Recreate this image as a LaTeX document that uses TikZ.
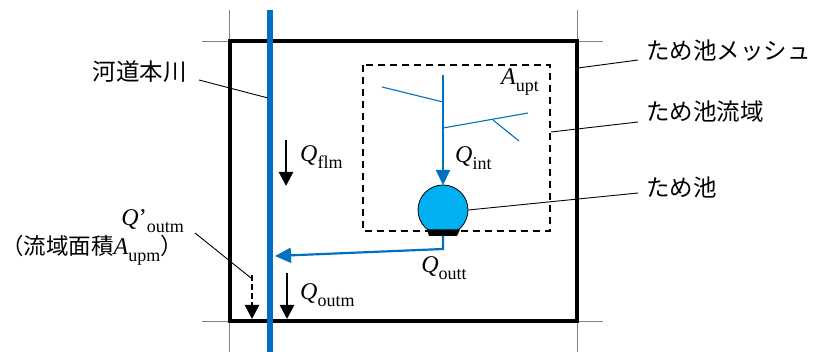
\documentclass[tikz,border=0pt]{standalone}
\usepackage{fontspec}
\setmainfont{Liberation Serif}
\newfontfamily\cjk{Noto Sans CJK JP}
\usetikzlibrary{arrows.meta}
\definecolor{riverblue}{RGB}{0,112,192}
\definecolor{pondblue}{RGB}{0,176,240}
\newcommand\sbx[1]{\raisebox{-0.3em}{\fontsize{18}{20}\selectfont #1}}
\newcommand\Qv[1]{\textit{Q}\sbx{#1}}
\begin{document}
\begin{tikzpicture}[x=1pt,y=-1pt,
  lbl/.style={font=\fontsize{24}{26}\selectfont, inner sep=0pt},
  jlbl/.style={font=\fontsize{23.5}{26}\selectfont\cjk, inner sep=0pt},
  leader/.style={black, line width=0.9pt},
  grid/.style={gray, line width=0.8pt},
  flowarrow/.style={line width=2.5pt, -{Triangle[length=14pt,width=14pt]}},
  bluearrow/.style={riverblue, line width=2.2pt, -{Triangle[length=15pt,width=14pt]}},
  branch/.style={riverblue, line width=1.1pt}]
\useasboundingbox (0,0) rectangle (813,352);
% grid lines
\draw[grid] (229,10) -- (229,352);
\draw[grid] (577,10) -- (577,352);
\draw[grid] (202,41) -- (603,41);
\draw[grid] (202,321) -- (603,321);
% mesh box
\draw[line width=3.6pt] (230,41) rectangle (577,321);
% river
\draw[riverblue, line width=6pt] (270,10) -- (270,352);
% catchment
\draw[line width=1.8pt, dash pattern=on 7pt off 5pt] (363,65) rectangle (550,231);
% tree
\draw[branch] (382,87) -- (443,102);
\draw[branch] (443,128) -- (528,113);
\draw[branch] (493,120) -- (519,141);
\coordinate (stemtop) at (443,75);
\coordinate (stemend) at (443,185);
\draw[bluearrow] (stemtop) -- (stemend);
% pond
\node[circle, draw=black, line width=0.8pt, fill=pondblue, minimum size=50pt, inner sep=0pt] (pond) at (443,210) {};
\fill (427,229.5) -- (460,229.5) -- (457,236) -- (429,236) -- cycle;
% outflow
\coordinate (outA) at (443,236);
\coordinate (outB) at (443,249);
\coordinate (outC) at (275,256);
\draw[riverblue, line width=2.2pt, -{Triangle[length=16pt,width=15pt]}] (outA) -- (outB) -- (outC);
% flow arrows
\coordinate (f1a) at (286,140); \coordinate (f1b) at (286,186);
\draw[flowarrow] (f1a) -- (f1b);
\coordinate (f2a) at (287,273); \coordinate (f2b) at (287,319);
\draw[flowarrow] (f2a) -- (f2b);
\coordinate (f3a) at (252,275); \coordinate (f3b) at (252,319);
\draw[flowarrow, dash pattern=on 6pt off 3pt] (f3a) -- (f3b);
% labels
\node[lbl, anchor=west] (qflm) at (300,157) {\Qv{flm}};
\node[lbl, anchor=west] (qint) at (455,158) {\Qv{int}};
\node[lbl, anchor=west] (aupt) at (501,82) {\textit{A}\sbx{upt}};
\node[lbl] (qoutt) at (444,268) {\Qv{outt}};
\node[lbl, anchor=west] (qoutm) at (300,295) {\Qv{outm}};
\node[lbl, anchor=east] (qpoutm) at (184,221) {\textit{Q}’\sbx{outm}};
\node[lbl, anchor=east] (aupm) at (183,250) {{\cjk\fontsize{22.5}{24}\selectfont （流域面積}\textit{A}\sbx{upm}{\cjk\fontsize{22.5}{24}\selectfont ）}};
\node[jlbl, anchor=east] (river) at (187,72) {河道本川};
\node[jlbl, anchor=west] (mesh) at (646,51) {ため池メッシュ};
\node[jlbl, anchor=west] (basin) at (646,112) {ため池流域};
\node[jlbl, anchor=west] (ike) at (646,187) {ため池};
% leaders
\coordinate (lr) at (268,98);
\draw[leader] (199,80) -- (lr);
\coordinate (lm) at (578,68);
\draw[leader] (638,60) -- (lm);
\coordinate (lb) at (551,132);
\draw[leader] (638,122) -- (lb);
\draw[leader] (638,193) -- (pond.east);
\coordinate (lq) at (251,278);
\draw[leader] (195,233) -- (lq);
\end{tikzpicture}
\end{document}
